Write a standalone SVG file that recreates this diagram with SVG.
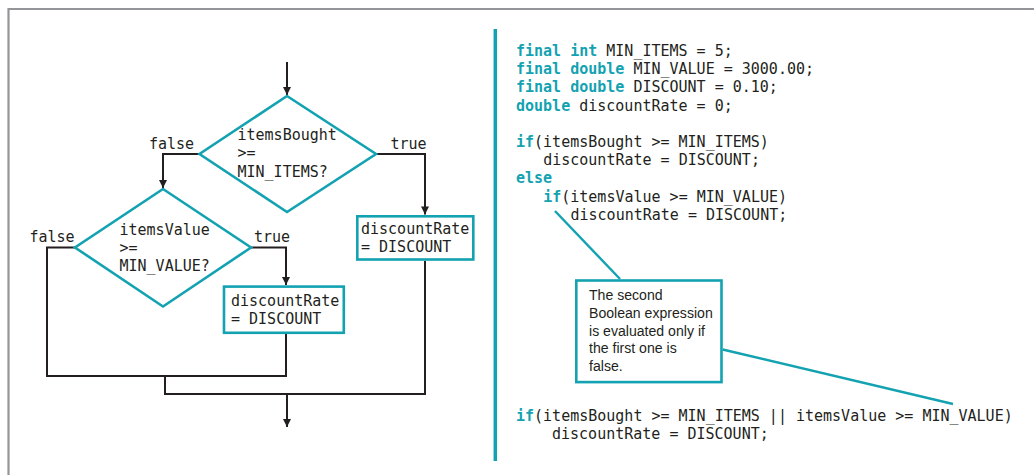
<svg xmlns="http://www.w3.org/2000/svg" width="1034" height="475" viewBox="0 0 1034 475">
<style>
.frame{fill:none;stroke:#939598;stroke-width:2.2}
.teal{fill:none;stroke:#13a2b1;stroke-width:2.6}
.wire{fill:none;stroke:#231f20;stroke-width:2}
.lead{fill:none;stroke:#13a2b1;stroke-width:2.4}
.mono{font-family:"DejaVu Sans Mono","Liberation Mono",monospace;font-size:15px;fill:#231f20}
.kw{fill:#13a2b1;font-weight:bold}
.note{font-family:"Liberation Sans",Arial,sans-serif;font-size:15px;fill:#231f20}
</style>
<defs>
<marker id="arr" viewBox="0 0 10 10" refX="10" refY="5" markerWidth="11" markerHeight="8" markerUnits="userSpaceOnUse" orient="auto">
<path d="M0,0 L10,5 L0,10 z" fill="#231f20"/>
</marker>
</defs>
<rect width="1034" height="475" fill="#ffffff"/>
<path class="frame" d="M8.5,475 V9 H1034"/>
<line x1="495.3" y1="29" x2="495.3" y2="461" stroke="#13a2b1" stroke-width="3.5"/>

<g id="connectors">
<path class="wire" d="M287,62 V95" marker-end="url(#arr)"/>
<path class="wire" d="M199.5,154 H163 V188" marker-end="url(#arr)"/>
<path class="wire" d="M376,154 H425 V214.5" marker-end="url(#arr)"/>
<path class="wire" d="M75,247.5 H47 V376 H286 V334"/>
<path class="wire" d="M251,247.5 H286 V285" marker-end="url(#arr)"/>
<path class="wire" d="M165,376 V394 H425 V261"/>
<path class="wire" d="M287,394 V427" marker-end="url(#arr)"/>
<text class="mono" x="149" y="148.5">false</text>
<text class="mono" x="390.5" y="148.5">true</text>
<text class="mono" x="29.5" y="242">false</text>
<text class="mono" x="254" y="242">true</text>
</g>

<g id="decision1">
<polygon class="teal" points="287,96 376,154 287,212 199.5,154" fill="#fff"/>
<text class="mono" x="237.5" y="139.5">itemsBought</text>
<text class="mono" x="237.5" y="158">&gt;=</text>
<text class="mono" x="237.5" y="176.5">MIN_ITEMS?</text>
</g>

<g id="decision2">
<polygon class="teal" points="163,189 251,247.5 163,306.5 75,247.5" fill="#fff"/>
<text class="mono" x="119.5" y="235">itemsValue</text>
<text class="mono" x="119.5" y="253">&gt;=</text>
<text class="mono" x="119.5" y="271">MIN_VALUE?</text>
</g>

<g id="assign1">
<rect class="teal" x="357.3" y="216.3" width="116" height="43.2" fill="#fff"/>
<text class="mono" x="361" y="234">discountRate</text>
<text class="mono" x="361" y="252">= DISCOUNT</text>
</g>

<g id="assign2">
<rect class="teal" x="224" y="286.6" width="119.8" height="46.2" fill="#fff"/>
<text class="mono" x="231" y="306">discountRate</text>
<text class="mono" x="231" y="324">= DISCOUNT</text>
</g>

<g id="code1">
<text class="mono" x="516" y="55.7"><tspan class="kw">final int</tspan> MIN_ITEMS = 5;</text>
<text class="mono" x="516" y="74"><tspan class="kw">final double</tspan> MIN_VALUE = 3000.00;</text>
<text class="mono" x="516" y="92.3"><tspan class="kw">final double</tspan> DISCOUNT = 0.10;</text>
<text class="mono" x="516" y="110.5"><tspan class="kw">double</tspan> discountRate = 0;</text>
<text class="mono" x="516" y="146.7"><tspan class="kw">if</tspan>(itemsBought &gt;= MIN_ITEMS)</text>
<text class="mono" x="543.2" y="165">discountRate = DISCOUNT;</text>
<text class="mono kw" x="516" y="183">else</text>
<text class="mono" x="543.2" y="201.5"><tspan class="kw">if</tspan>(itemsValue &gt;= MIN_VALUE)</text>
<text class="mono" x="570.5" y="219.8">discountRate = DISCOUNT;</text>
</g>

<g id="callout">
<line class="lead" x1="555" y1="211" x2="620" y2="279"/>
<line class="lead" x1="722.7" y1="349.5" x2="953" y2="404"/>
<rect x="576.3" y="280.5" width="145.2" height="101.6" fill="#fff" stroke="#13a2b1" stroke-width="2.6"/>
<g transform="translate(589,0) scale(0.94,1)">
<text class="note" x="0" y="300">The second</text>
<text class="note" x="0" y="318">Boolean expression</text>
<text class="note" x="0" y="336">is evaluated only if</text>
<text class="note" x="0" y="353.5">the first one is</text>
<text class="note" x="0" y="371">false.</text>
</g>
</g>

<g id="code2">
<text class="mono" x="516" y="420.5"><tspan class="kw">if</tspan>(itemsBought &gt;= MIN_ITEMS || itemsValue &gt;= MIN_VALUE)</text>
<text class="mono" x="552" y="438.5">discountRate = DISCOUNT;</text>
</g>
</svg>
